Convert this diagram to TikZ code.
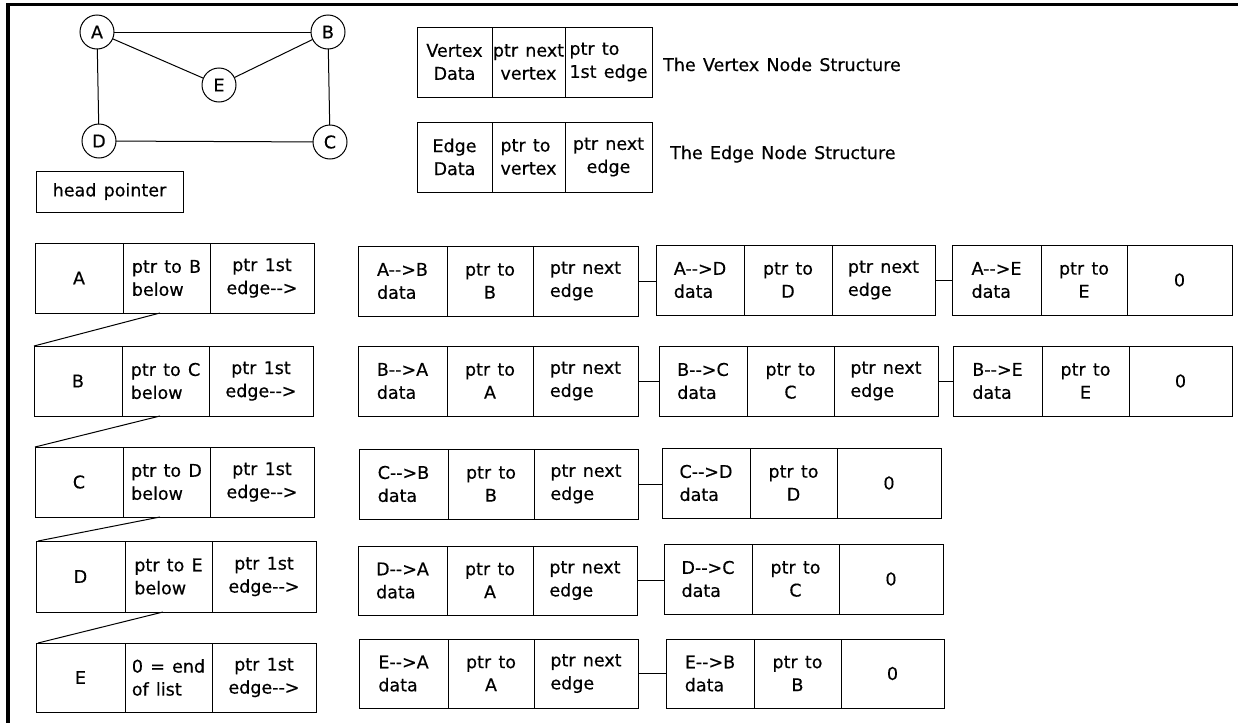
\documentclass[tikz,border=0pt]{standalone}
\usepackage{fontspec}
\setmainfont{DejaVu Sans}[FakeBold=0.4,WordSpace=1.3]
\newcommand\arr{-\kern0pt-\kern0pt>}
\newcommand\txtfont{\fontsize{17.5}{23}\selectfont}
\tikzset{
  cell/.style={draw, line width=1pt, inner sep=0pt, outer sep=0pt, anchor=north west, font=\txtfont},
  vtx/.style={draw, circle, minimum size=34pt, inner sep=0pt, outer sep=0pt, line width=1pt, font=\txtfont},
  link/.style={line width=1pt},
  caption/.style={anchor=base west, inner sep=0pt, font=\txtfont},
  frame/.style={line width=#1, line cap=butt}
}
% name, x0, x1, y0, y1, align, text
\newcommand\cellat[7]{\node[cell, align=#6, minimum width={(#3-#2)*1pt}, minimum height={(#5-#4)*1pt}] (#1) at (#2,#4) {#7};}
\begin{document}
\begin{tikzpicture}[x=1pt,y=-1pt]
\useasboundingbox (0,0) rectangle (1238,723);
% frame
\draw[frame=3pt] (6,4.5) -- (1238,4.5);
\draw[frame=4pt] (8,3) -- (8,723);

% graph
\node[vtx] (gA) at (97,32) {A};
\node[vtx] (gB) at (328,32) {B};
\node[vtx] (gE) at (219,85) {E};
\node[vtx] (gD) at (99,141) {D};
\node[vtx] (gC) at (330,142) {C};
\draw[link] (gA) -- (gB);
\draw[link] (gA) -- (gE);
\draw[link] (gE) -- (gB);
\draw[link] (gA) -- (gD);
\draw[link] (gB) -- (gC);
\draw[link] (gD) -- (gC);

\cellat{head}{36}{183}{171}{212}{center}{head pointer}

% structures
\cellat{vs1}{417}{492}{27}{97}{center}{Vertex\\Data}
\cellat{vs2}{492}{565}{27}{97}{center}{ptr next\\vertex}
\cellat{vs3}{565}{652}{27}{97}{left}{ptr to\\1st edge}
\node[caption] (vscap) at (663,71) {The Vertex Node Structure};
\cellat{es1}{417}{492}{122}{192}{center}{Edge\\Data}
\cellat{es2}{492}{565}{122}{192}{left}{ptr to\\vertex}
\cellat{es3}{565}{652}{122}{192}{center}{ptr next\\edge}
\node[caption] (escap) at (670,159) {The Edge Node Structure};

% vertex list
\cellat{vA1}{35}{123}{243}{313}{center}{A}
\cellat{vA2}{123}{210}{243}{313}{left}{ptr to B\\below}
\cellat{vA3}{210}{314}{243}{313}{center}{ptr 1st\\edge\arr}
\cellat{vB1}{34}{122}{346}{416}{center}{B}
\cellat{vB2}{122}{209}{346}{416}{left}{ptr to C\\below}
\cellat{vB3}{209}{313}{346}{416}{center}{ptr 1st\\edge\arr}
\cellat{vC1}{35}{123}{447}{517}{center}{C}
\cellat{vC2}{123}{210}{447}{517}{left}{ptr to D\\below}
\cellat{vC3}{210}{314}{447}{517}{center}{ptr 1st\\edge\arr}
\cellat{vD1}{36}{125}{541}{612}{center}{D}
\cellat{vD2}{125}{212}{541}{612}{left}{ptr to E\\below}
\cellat{vD3}{212}{316}{541}{612}{center}{ptr 1st\\edge\arr}
\cellat{vE1}{36}{125}{643}{712}{center}{E}
\cellat{vE2}{125}{212}{643}{712}{left}{0 = end\\of list}
\cellat{vE3}{212}{316}{643}{712}{center}{ptr 1st\\edge\arr}
\draw[link] ([xshift=37pt]vA2.south west) -- (vB1.north west);
\draw[link] ([xshift=38pt]vB2.south west) -- (vC1.north west);
\draw[link] ([xshift=37pt]vC2.south west) -- ([xshift=2pt]vD1.north west);
\draw[link] ([xshift=38pt]vD2.south west) -- ([xshift=2pt]vE1.north west);

% edge lists: row A
\cellat{a11}{358}{447}{246}{316}{left}{A\arr B\\data}
\cellat{a12}{447}{533}{246}{316}{center}{ptr to\\B}
\cellat{a13}{533}{638}{246}{316}{left}{ptr next\\edge}
\cellat{a21}{656}{744}{245}{315}{left}{A\arr D\\data}
\cellat{a22}{744}{832}{245}{315}{center}{ptr to\\D}
\cellat{a23}{832}{935}{245}{315}{left}{ptr next\\edge}
\cellat{a31}{952}{1041}{245}{315}{left}{A\arr E\\data}
\cellat{a32}{1041}{1127}{245}{315}{center}{ptr to\\E}
\cellat{a33}{1127}{1232}{245}{315}{center}{0}
\draw[link] (a13.east) -- (a13.east -| a21.west);
\draw[link] (a23.east) -- (a23.east -| a31.west);
% row B
\cellat{b11}{358}{447}{346}{416}{left}{B\arr A\\data}
\cellat{b12}{447}{533}{346}{416}{center}{ptr to\\A}
\cellat{b13}{533}{638}{346}{416}{left}{ptr next\\edge}
\cellat{b21}{659}{747}{346}{416}{left}{B\arr C\\data}
\cellat{b22}{747}{834}{346}{416}{center}{ptr to\\C}
\cellat{b23}{834}{938}{346}{416}{left}{ptr next\\edge}
\cellat{b31}{953}{1042}{346}{416}{left}{B\arr E\\data}
\cellat{b32}{1042}{1129}{346}{416}{center}{ptr to\\E}
\cellat{b33}{1129}{1232}{346}{416}{center}{0}
\draw[link] (b13.east) -- (b13.east -| b21.west);
\draw[link] (b23.east) -- (b23.east -| b31.west);
% row C
\cellat{c11}{359}{448}{449}{519}{left}{C\arr B\\data}
\cellat{c12}{448}{534}{449}{519}{center}{ptr to\\B}
\cellat{c13}{534}{638}{449}{519}{left}{ptr next\\edge}
\cellat{c21}{662}{750}{448}{518}{left}{C\arr D\\data}
\cellat{c22}{750}{837}{448}{518}{center}{ptr to\\D}
\cellat{c23}{837}{941}{448}{518}{center}{0}
\draw[link] (c13.east) -- (c13.east -| c21.west);
% row D
\cellat{d11}{358}{447}{546}{615}{left}{D\arr A\\data}
\cellat{d12}{447}{533}{546}{615}{center}{ptr to\\A}
\cellat{d13}{533}{637}{546}{615}{left}{ptr next\\edge}
\cellat{d21}{664}{752}{544}{614}{left}{D\arr C\\data}
\cellat{d22}{752}{839}{544}{614}{center}{ptr to\\C}
\cellat{d23}{839}{943}{544}{614}{center}{0}
\draw[link] (d13.east) -- (d13.east -| d21.west);
% row E
\cellat{e11}{359}{448}{639}{708}{left}{E\arr A\\data}
\cellat{e12}{448}{534}{639}{708}{center}{ptr to\\A}
\cellat{e13}{534}{638}{639}{708}{left}{ptr next\\edge}
\cellat{e21}{666}{754}{639}{708}{left}{E\arr B\\data}
\cellat{e22}{754}{841}{639}{708}{center}{ptr to\\B}
\cellat{e23}{841}{944}{639}{708}{center}{0}
\draw[link] (e13.east) -- (e13.east -| e21.west);
\end{tikzpicture}
\end{document}
